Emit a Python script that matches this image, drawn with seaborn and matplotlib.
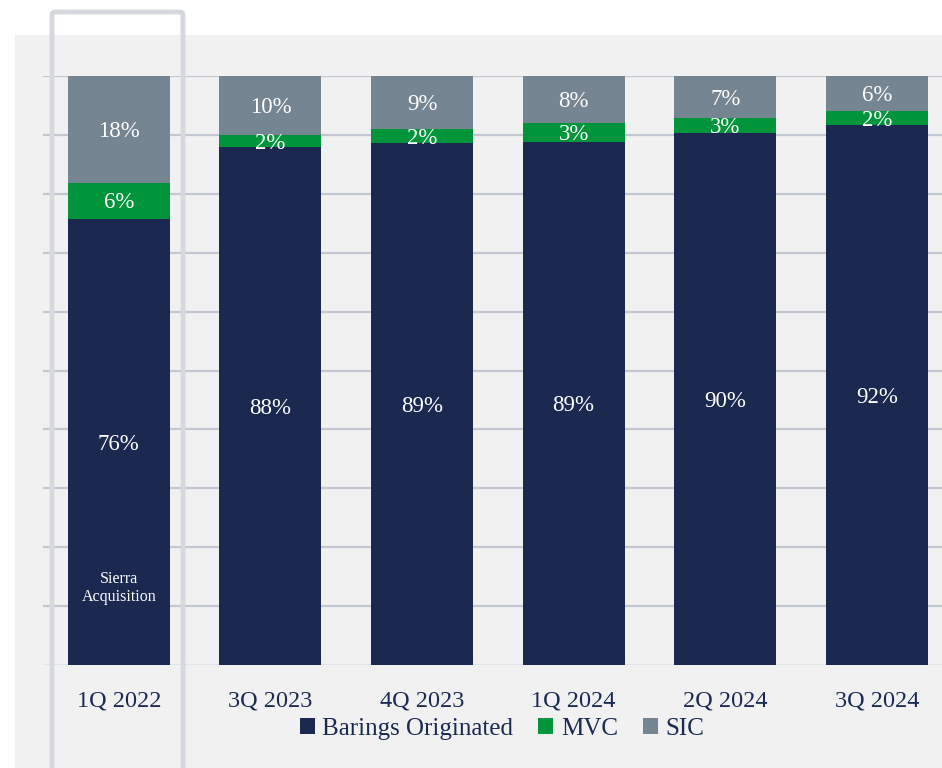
import seaborn as sns
import matplotlib.pyplot as plt
import pandas as pd
from matplotlib.patches import Rectangle, FancyBboxPatch

# data (share of portfolio, %)
quarters = ["1Q 2022", "3Q 2023", "4Q 2023", "1Q 2024", "2Q 2024", "3Q 2024"]
barings = [75.8, 88.0, 88.6, 88.8, 90.3, 91.7]
mvc = [6.1, 2.0, 2.4, 3.2, 2.6, 2.4]
sic = [18.1, 10.0, 9.0, 8.0, 7.1, 5.9]
series_names = ["Barings Originated", "MVC", "SIC"]
colors = ["#1b2951", "#00953b", "#768592"]
note_text = "Sierra\nAcquisition"

text_color = "#1b2a52"
panel_color = "#f1f1f1"

df = pd.DataFrame({"quarter": quarters, "Barings Originated": barings,
                   "MVC": mvc, "SIC": sic})
df["top_mvc"] = df["Barings Originated"] + df["MVC"]
df["top_sic"] = df["top_mvc"] + df["SIC"]

sns.set_style("white")
plt.rcParams["font.family"] = ["Liberation Serif", "DejaVu Serif"]

fig = plt.figure(figsize=(9.42, 7.68), dpi=100)
fig.patch.set_facecolor("white")

# grey panel behind everything
fig.patches.append(Rectangle((15 / 942, 0.0), 1 - 15 / 942, 1 - 35 / 768,
                             transform=fig.transFigure, facecolor=panel_color,
                             edgecolor="none", zorder=-5))

ax = fig.add_axes([43 / 942, 1 - 665 / 768, 1 - 43 / 942, (665 - 76) / 768])
ax.set_facecolor("none")
ax.set_zorder(1)

# stacked bars: draw cumulative totals from the top down
width = 0.673
for col, c in zip(["top_sic", "top_mvc", "Barings Originated"], colors[::-1]):
    sns.barplot(data=df, x="quarter", y=col, order=quarters, color=c,
                width=width, saturation=1, linewidth=0, ax=ax, zorder=3)

# segment labels
for i, row in df.iterrows():
    bottom = 0
    for name in series_names:
        val = row[name]
        ax.text(i, bottom + val / 2 - 0.4, f"{round(val)}%", ha="center",
                va="center", color="white", fontsize=16.5, zorder=5)
        bottom += val

ax.text(0, 13.1, note_text, ha="center", va="center", color="white",
        fontsize=11.5, linespacing=1.15, zorder=5)

ax.set_ylim(0, 100)
ax.set_xlim(-0.5, 5.43)
ax.set_yticks(range(10, 101, 10))
ax.set_yticklabels([])
ax.grid(axis="y", color="#c3c7d2", linewidth=1.6, zorder=1)
ax.axhline(0, color="#e2e5ea", linewidth=1.6, zorder=1)
for s in ax.spines.values():
    s.set_visible(False)
ax.tick_params(axis="both", length=0)
ax.tick_params(axis="x", pad=18, labelsize=17.5, labelcolor=text_color)
ax.set_xlabel("")
ax.set_ylabel("")

# highlight outline around the first bar
fig.patches.append(FancyBboxPatch((52 / 942, -0.05), 131 / 942, 1 - 12 / 768 + 0.05,
                                  boxstyle="round,pad=0,rounding_size=0.004",
                                  transform=fig.transFigure, facecolor="none",
                                  edgecolor="#d5d9de", linewidth=3.5, zorder=10))

handles = [Rectangle((0, 0), 1, 1, facecolor=c, edgecolor="none") for c in colors]
fig.legend(handles, series_names, loc="center", ncol=3,
           bbox_to_anchor=(502 / 942, 1 - 729 / 768), frameon=False,
           fontsize=18, labelcolor=text_color, handlelength=0.6, handleheight=0.6,
           handletextpad=0.3, columnspacing=1.0)

plt.savefig("out.png", dpi=100)
plt.close()
